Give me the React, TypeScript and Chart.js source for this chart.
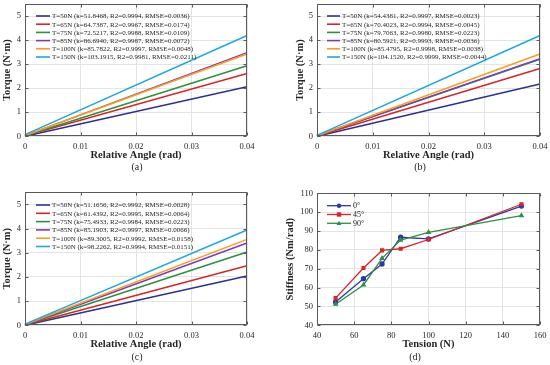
import React, { useEffect, useRef } from 'react';
import { Chart, registerables } from 'chart.js';

Chart.register(...registerables);

// ---------- DATA ----------
const angleRange = [0, 0.04];
const angleTicks = [0, 0.01, 0.02, 0.03, 0.04];
const torqueTicks = [0, 1, 2, 3, 4, 5];

const legendA = [
  'T=50N (k=51.8468, R2=0.9994, RMSE=0.0036)',
  'T=65N (k=64.7387, R2=0.9967, RMSE=0.0174)',
  'T=75N (k=72.5217, R2=0.9988, RMSE=0.0109)',
  'T=85N (k=86.6940, R2=0.9987, RMSE=0.0072)',
  'T=100N (k=85.7822, R2=0.9997, RMSE=0.0048)',
  'T=150N (k=103.1915, R2=0.9981, RMSE=0.0211)',
];
const startA = [0.0, 0.02, 0.02, 0.03, 0.03, 0.07];
const endA = [2.06, 2.61, 2.93, 3.48, 3.42, 4.19];

const legendB = [
  'T=50N (k=54.4381, R2=0.9997, RMSE=0.0023)',
  'T=65N (k=70.4023, R2=0.9994, RMSE=0.0045)',
  'T=75N (k=79.7063, R2=0.9980, RMSE=0.0223)',
  'T=85N (k=80.5921, R2=0.9993, RMSE=0.0036)',
  'T=100N (k=85.4795, R2=0.9998, RMSE=0.0038)',
  'T=150N (k=104.1520, R2=0.9999, RMSE=0.0044)',
];
const startB = [0.0, 0.01, 0.03, 0.02, 0.02, 0.04];
const endB = [2.17, 2.82, 3.2, 3.23, 3.42, 4.19];

const legendC = [
  'T=50N (k=51.1656, R2=0.9992, RMSE=0.0028)',
  'T=65N (k=61.4392, R2=0.9995, RMSE=0.0064)',
  'T=75N (k=75.4933, R2=0.9984, RMSE=0.0223)',
  'T=85N (k=85.1903, R2=0.9997, RMSE=0.0066)',
  'T=100N (k=89.3005, R2=0.9992, RMSE=0.0158)',
  'T=150N (k=98.2262, R2=0.9994, RMSE=0.0151)',
];
const startC = [0.0, 0.01, 0.02, 0.02, 0.03, 0.05];
const endC = [2.04, 2.46, 3.03, 3.4, 3.55, 3.94];

const tensions = [50, 65, 75, 85, 100, 150];
const stiffness0 = [52.3, 64.7, 72.5, 86.7, 85.8, 103.2];
const stiffness45 = [54.4, 70.4, 79.7, 80.6, 85.5, 104.2];
const stiffness90 = [51.2, 61.4, 75.5, 85.2, 89.3, 98.2];
const orientationLabels = ['0°', '45°', '90°'];
const tensionTicks = [40, 60, 80, 100, 120, 140, 160];
const stiffnessTicks = [40, 50, 60, 70, 80, 90, 100, 110];

// ---------- STYLE ----------
const fitColors = ['#2b3190', '#d92525', '#2a9140', '#7d3cbd', '#ff9c1a', '#1ea8e2'];
const orientColors = ['#2b36a8', '#d92525', '#2a9140'];
const orientMarkers = ['circle', 'rect', 'triangle'];
const SERIF = '"Liberation Serif", "DejaVu Serif", serif';
const GRID = '#e4e4e4';
const FRAME = '#5a5a5a';
const TEXT = '#262626';

type Panel = {
  key: string;
  x: number; y: number; w: number; h: number;
  plot: { l: number; t: number; r: number; b: number };
  xTitle: string; yTitle: string; caption: string; captionX: number; captionY: number;
  xTitleCenter: number; yTitleCenter: number;
  xMin: number; xMax: number; yMin: number; yMax: number;
  xTicks: number[]; yTicks: number[];
  legendX: number; legendY: number; legendStep: number; legendLine: number;
};

const panels: Panel[] = [
  { key: 'a', x: 0, y: 0, w: 275, h: 180, plot: { l: 25, t: 4, r: 247, b: 136.3 },
    xTitle: 'Relative Angle (rad)', yTitle: 'Torque (N·m)', caption: '(a)', captionX: 137, captionY: 167.5,
    xTitleCenter: 155.5, yTitleCenter: 7.5, xMin: 0, xMax: 0.04, yMin: 0, yMax: 5.5,
    xTicks: angleTicks, yTicks: torqueTicks, legendX: 36, legendY: 16, legendStep: 8.2, legendLine: 14 },
  { key: 'b', x: 275, y: 0, w: 275, h: 180, plot: { l: 42, t: 4, r: 265, b: 136.3 },
    xTitle: 'Relative Angle (rad)', yTitle: 'Torque (N·m)', caption: '(b)', captionX: 145, captionY: 167.5,
    xTitleCenter: 155.5, yTitleCenter: 25, xMin: 0, xMax: 0.04, yMin: 0, yMax: 5.5,
    xTicks: angleTicks, yTicks: torqueTicks, legendX: 52, legendY: 16, legendStep: 8.2, legendLine: 13 },
  { key: 'c', x: 0, y: 180, w: 275, h: 185, plot: { l: 25, t: 12.2, r: 247, b: 145.3 },
    xTitle: 'Relative Angle (rad)', yTitle: 'Torque (N·m)', caption: '(c)', captionX: 137, captionY: 177,
    xTitleCenter: 164, yTitleCenter: 7.5, xMin: 0, xMax: 0.04, yMin: 0, yMax: 5.5,
    xTicks: angleTicks, yTicks: torqueTicks, legendX: 36, legendY: 25, legendStep: 8.3, legendLine: 14 },
  { key: 'd', x: 275, y: 180, w: 275, h: 185, plot: { l: 42, t: 13.3, r: 265, b: 145.3 },
    xTitle: 'Tension (N)', yTitle: 'Stiffness (Nm/rad)', caption: '(d)', captionX: 140, captionY: 177,
    xTitleCenter: 164, yTitleCenter: 15, xMin: 40, xMax: 160, yMin: 40, yMax: 110,
    xTicks: tensionTicks, yTicks: stiffnessTicks, legendX: 52, legendY: 25.7, legendStep: 8.8, legendLine: 24 },
];

function fitDatasets(legend: string[], starts: number[], ends: number[]) {
  return legend.map((label, i) => ({
    label,
    data: [
      { x: angleRange[0], y: starts[i] },
      { x: angleRange[1], y: ends[i] },
    ],
    borderColor: fitColors[i],
    backgroundColor: fitColors[i],
    borderWidth: 1.5,
    pointRadius: 0,
    showLine: true,
    order: legend.length - i,
    clip: false as any,
  }));
}

function stiffnessDatasets() {
  const series = [stiffness0, stiffness45, stiffness90];
  return series.map((vals, i) => ({
    label: orientationLabels[i],
    data: tensions.map((t, j) => ({ x: t, y: vals[j] })),
    borderColor: orientColors[i],
    backgroundColor: orientColors[i],
    borderWidth: 1.3,
    pointRadius: 2,
    pointStyle: orientMarkers[i],
    showLine: true,
    order: series.length - i,
  }));
}

function drawMarker(ctx: CanvasRenderingContext2D, style: string, x: number, y: number, r: number) {
  ctx.beginPath();
  if (style === 'circle') ctx.arc(x, y, r, 0, Math.PI * 2);
  else if (style === 'rect') ctx.rect(x - r, y - r, 2 * r, 2 * r);
  else {
    ctx.moveTo(x, y - r * 1.2);
    ctx.lineTo(x + r * 1.1, y + r * 0.8);
    ctx.lineTo(x - r * 1.1, y + r * 0.8);
    ctx.closePath();
  }
  ctx.fill();
}

function makePlugin(p: Panel, isStiffness: boolean) {
  return {
    id: 'frame_' + p.key,
    afterDraw(chart: any) {
      const { ctx, chartArea: a, scales } = chart;
      ctx.save();
      // box
      const L = Math.round(a.left) + 0.5, T = Math.round(a.top) + 0.5;
      const R = Math.round(a.right) - 0.5, B = Math.round(a.bottom) - 0.5;
      ctx.strokeStyle = FRAME;
      ctx.lineWidth = 1;
      ctx.strokeRect(L, T, R - L, B - T);
      // inward ticks
      ctx.beginPath();
      p.xTicks.forEach((v) => {
        const px = Math.round(scales.x.getPixelForValue(v)) + 0.5;
        ctx.moveTo(px, B); ctx.lineTo(px, B - 3);
        ctx.moveTo(px, T); ctx.lineTo(px, T + 3);
      });
      p.yTicks.forEach((v) => {
        const py = Math.round(scales.y.getPixelForValue(v)) + 0.5;
        ctx.moveTo(L, py); ctx.lineTo(L + 3, py);
        ctx.moveTo(R, py); ctx.lineTo(R - 3, py);
      });
      ctx.stroke();
      // legend
      ctx.textBaseline = 'middle';
      ctx.textAlign = 'left';
      chart.data.datasets.forEach((ds: any, i: number) => {
        const y = p.legendY + i * p.legendStep;
        ctx.strokeStyle = ds.borderColor;
        ctx.fillStyle = ds.borderColor;
        ctx.lineWidth = isStiffness ? 1.3 : 1.6;
        ctx.beginPath();
        ctx.moveTo(p.legendX, y);
        ctx.lineTo(p.legendX + p.legendLine, y);
        ctx.stroke();
        if (isStiffness) drawMarker(ctx, ds.pointStyle, p.legendX + p.legendLine / 2, y, 2.2);
        ctx.fillStyle = TEXT;
        ctx.font = (isStiffness ? '8px ' : '7px ') + SERIF;
        ctx.fillText(ds.label, p.legendX + p.legendLine + 2, y + 0.5);
      });
      // caption
      ctx.textAlign = 'center';
      ctx.fillStyle = TEXT;
      ctx.font = '10px ' + SERIF;
      ctx.fillText(p.caption, p.captionX, p.captionY);
      ctx.restore();
    },
  };
}

function PanelChart({ p }: { p: Panel }) {
  const ref = useRef<HTMLCanvasElement | null>(null);
  useEffect(() => {
    if (!ref.current) return;
    const isStiffness = p.key === 'd';
    const datasets = p.key === 'a' ? fitDatasets(legendA, startA, endA)
      : p.key === 'b' ? fitDatasets(legendB, startB, endB)
      : p.key === 'c' ? fitDatasets(legendC, startC, endC)
      : stiffnessDatasets();
    const xAxisH = 28;
    const titleFont = { family: SERIF, size: 10.5, weight: 'bold' as const, lineHeight: 1.2 };
    const half = 10.5 * 1.2 / 2;
    const chart = new Chart(ref.current, {
      type: 'scatter',
      data: { datasets: datasets as any },
      options: {
        animation: false,
        responsive: false,
        maintainAspectRatio: false,
        events: [],
        layout: {
          padding: { left: 0, top: p.plot.t, right: p.w - p.plot.r, bottom: p.h - p.plot.b - xAxisH },
        },
        plugins: { legend: { display: false }, tooltip: { enabled: false }, title: { display: false } },
        scales: {
          x: {
            type: 'linear',
            min: p.xMin,
            max: p.xMax,
            afterBuildTicks: (s: any) => { s.ticks = p.xTicks.map((v) => ({ value: v })); },
            afterFit: (s: any) => { s.height = xAxisH; s.paddingLeft = 0; s.paddingRight = 0; },
            ticks: {
              padding: 5,
              maxRotation: 0,
              autoSkip: false,
              color: TEXT,
              font: { family: SERIF, size: 8.5 },
              callback: (v: any) => String(v),
            },
            grid: { color: GRID, drawTicks: false, lineWidth: 1 },
            border: { display: false },
            title: {
              display: true,
              text: p.xTitle,
              color: TEXT,
              font: titleFont,
              padding: { top: 0, bottom: p.plot.b + xAxisH - p.xTitleCenter - half },
            },
          },
          y: {
            type: 'linear',
            min: p.yMin,
            max: p.yMax,
            afterBuildTicks: (s: any) => { s.ticks = p.yTicks.map((v) => ({ value: v })); },
            afterFit: (s: any) => { s.width = p.plot.l; s.paddingTop = 0; s.paddingBottom = 0; },
            ticks: {
              padding: 4,
              autoSkip: false,
              color: TEXT,
              font: { family: SERIF, size: 8.5 },
              callback: (v: any) => String(v),
            },
            grid: { color: GRID, drawTicks: false, lineWidth: 1 },
            border: { display: false },
            title: {
              display: true,
              text: p.yTitle,
              color: TEXT,
              font: titleFont,
              padding: { top: p.yTitleCenter - half, bottom: 0 },
            },
          },
        },
      },
      plugins: [makePlugin(p, isStiffness)],
    });
    return () => chart.destroy();
  }, [p]);
  return (
    <canvas
      ref={ref}
      width={p.w}
      height={p.h}
      style={{ position: 'absolute', left: p.x, top: p.y, width: p.w, height: p.h }}
    />
  );
}

export default function App() {
  useEffect(() => {
    document.body.style.margin = '0';
    document.body.style.background = '#ffffff';
  }, []);
  return (
    <div style={{ position: 'relative', width: 550, height: 365, background: '#ffffff', overflow: 'hidden' }}>
      {panels.map((p) => (
        <PanelChart key={p.key} p={p} />
      ))}
    </div>
  );
}
